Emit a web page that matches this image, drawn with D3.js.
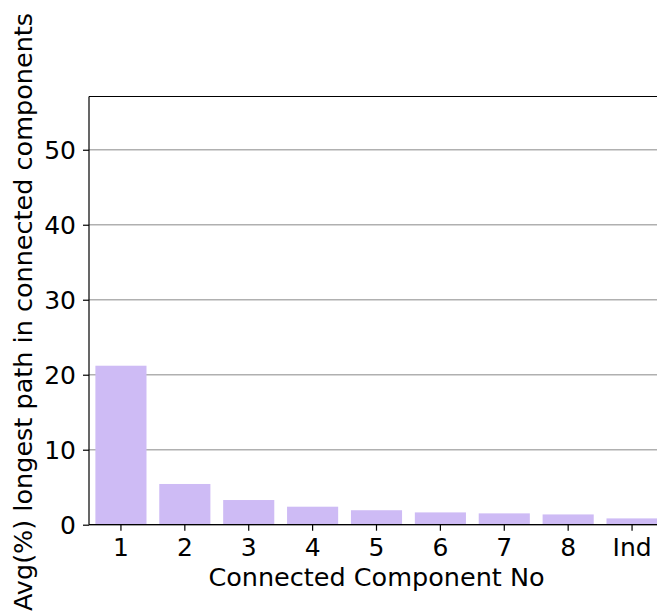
<!DOCTYPE html>
<html><head><meta charset="utf-8">
<script src="https://cdn.jsdelivr.net/npm/d3@7"></script>
<style>body{margin:0;background:#fff}svg{display:block}text{font-family:"DejaVu Sans",sans-serif}</style>
</head><body>
<script>
const categories = ["1","2","3","4","5","6","7","8","Ind"];
const values = [21.2, 5.43, 3.29, 2.4, 1.93, 1.64, 1.51, 1.37, 0.84];
const yTicks = [0,10,20,30,40,50];
const xLabel = "Connected Component No";
const yLabel = "Avg(%) longest path in connected components";

(function(){
const W=657,H=616;
const mL=89,mR=664,mT=96.5,mB=524.7;
const svg=d3.select("body").append("svg").attr("width",W).attr("height",H);
const x=d3.scaleBand().domain(categories).range([mL,mR]).paddingInner(0.2).paddingOuter(0.1);
const y=d3.scaleLinear().domain([0,57.1]).range([mB,mT]);

svg.append("g").selectAll("line").data(yTicks).join("line")
  .attr("x1",mL).attr("x2",W).attr("y1",d=>y(d)).attr("y2",d=>y(d))
  .attr("stroke","#b0b0b0").attr("stroke-width",1.4);

svg.append("g").selectAll("rect").data(values).join("rect")
  .attr("x",(d,i)=>x(categories[i])).attr("width",x.bandwidth())
  .attr("y",d=>y(d)).attr("height",d=>y(0)-y(d)).attr("fill","#cebbf5");

const ya=svg.append("g").attr("transform",`translate(${mL},0)`)
  .call(d3.axisLeft(y).tickValues(yTicks).tickSize(6).tickPadding(7));
ya.select(".domain").remove();
ya.selectAll("text").attr("font-size",25).attr("fill","#000").attr("dy","0.36em");
ya.selectAll("line").attr("stroke","#000").attr("stroke-width",1.2);

const xa=svg.append("g").attr("transform",`translate(0,${mB})`)
  .call(d3.axisBottom(x).tickSize(6).tickPadding(5));
xa.select(".domain").remove();
xa.selectAll("text").attr("font-size",25).attr("fill","#000").attr("dy",null).attr("y",31);
xa.selectAll("line").attr("stroke","#000").attr("stroke-width",1.2);

svg.append("line").attr("x1",mL).attr("x2",mL).attr("y1",mT).attr("y2",mB).attr("stroke","#000").attr("stroke-width",1.2);
svg.append("line").attr("x1",mL).attr("x2",W).attr("y1",mB).attr("y2",mB).attr("stroke","#000").attr("stroke-width",1.2);
svg.append("line").attr("x1",mL).attr("x2",W).attr("y1",mT).attr("y2",mT).attr("stroke","#000").attr("stroke-width",1.2);

svg.append("text").attr("x",376.5).attr("y",586).attr("text-anchor","middle").attr("font-size",25.5).text(xLabel);
svg.append("text").attr("transform",`translate(32,312) rotate(-90)`).attr("text-anchor","middle").attr("font-size",25.5).text(yLabel);
})();
</script>
</body></html>
